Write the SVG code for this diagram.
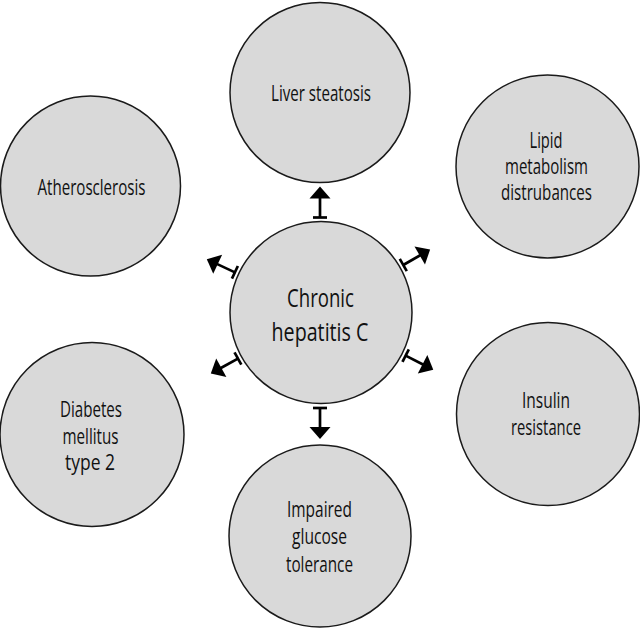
<svg xmlns="http://www.w3.org/2000/svg" width="640" height="628" viewBox="0 0 640 628">
<style>
.node{fill:#d9d9d9;stroke:#1a1a1a;stroke-width:1.5}
.t{font-family:"Open Sans","Liberation Sans",sans-serif;font-size:21px;fill:#111;text-anchor:middle}
.tc{font-size:26px}
.ln{stroke:#000;stroke-width:2.7;fill:none}
.hd{fill:#000}
</style>
<defs>
<g id="arr">
<line class="ln" x1="95" y1="-7" x2="95" y2="7"/>
<line class="ln" x1="95" y1="0" x2="115" y2="0"/>
<polygon class="hd" points="114,-10.5 126,0 114,10.5"/>
</g>
</defs>
<rect width="640" height="628" fill="#fff"/>
<g id="liver"><circle class="node" cx="320" cy="92.5" r="90"/>
<text class="t" x="321" y="100.5" textLength="100" lengthAdjust="spacingAndGlyphs">Liver steatosis</text></g>
<g id="atherosclerosis"><circle class="node" cx="90.5" cy="186" r="90"/>
<text class="t" x="91.5" y="195" textLength="108" lengthAdjust="spacingAndGlyphs">Atherosclerosis</text></g>
<g id="lipid"><circle class="node" cx="547.5" cy="166.5" r="91.5"/>
<text class="t" x="546" y="148" textLength="33" lengthAdjust="spacingAndGlyphs">Lipid</text>
<text class="t" x="546.5" y="174" textLength="83" lengthAdjust="spacingAndGlyphs">metabolism</text>
<text class="t" x="546.5" y="200" textLength="91" lengthAdjust="spacingAndGlyphs">distrubances</text></g>
<g id="insulin"><circle class="node" cx="548" cy="414" r="91.5"/>
<text class="t" x="546" y="408" textLength="48" lengthAdjust="spacingAndGlyphs">Insulin</text>
<text class="t" x="546" y="435" textLength="70" lengthAdjust="spacingAndGlyphs">resistance</text></g>
<g id="diabetes"><circle class="node" cx="92" cy="434.5" r="92"/>
<text class="t" x="91" y="417" textLength="62" lengthAdjust="spacingAndGlyphs">Diabetes</text>
<text class="t" x="90.5" y="444" textLength="56" lengthAdjust="spacingAndGlyphs">mellitus</text>
<text class="t" x="90" y="470" textLength="50" lengthAdjust="spacingAndGlyphs">type 2</text></g>
<g id="impaired"><circle class="node" cx="320" cy="536" r="91"/>
<text class="t" x="319.5" y="517" textLength="65" lengthAdjust="spacingAndGlyphs">Impaired</text>
<text class="t" x="319.5" y="544" textLength="55" lengthAdjust="spacingAndGlyphs">glucose</text>
<text class="t" x="319.5" y="572" textLength="67" lengthAdjust="spacingAndGlyphs">tolerance</text></g>
<g id="chronic"><circle class="node" cx="321" cy="312.5" r="91"/>
<text class="t tc" x="320.5" y="307" textLength="67" lengthAdjust="spacingAndGlyphs">Chronic</text>
<text class="t tc" x="320" y="341" textLength="97" lengthAdjust="spacingAndGlyphs">hepatitis C</text></g>
<g id="connectors">
<use href="#arr" transform="translate(320,312.5) rotate(-90)"/>
<use href="#arr" transform="translate(320,313) rotate(90)"/>
<use href="#arr" transform="translate(321,312.5) rotate(205)"/>
<use href="#arr" transform="translate(321,312.5) rotate(151)"/>
<use href="#arr" transform="translate(321,312.5) rotate(-30)"/>
<use href="#arr" transform="translate(321,312.5) rotate(27)"/>
</g>
</svg>
